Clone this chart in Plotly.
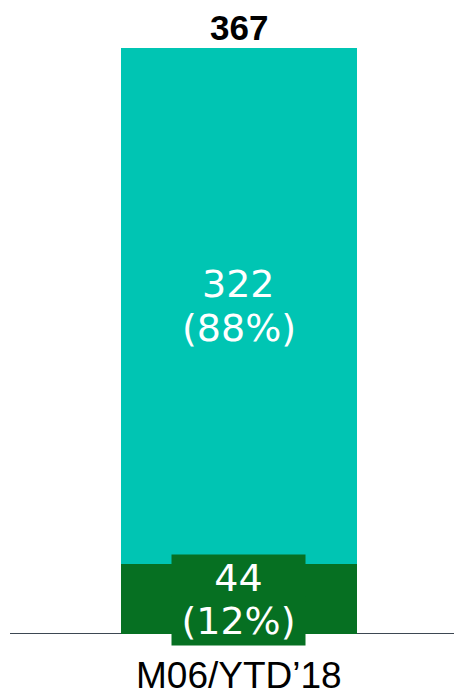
import plotly.graph_objects as go

categories = ["M06/YTD’18"]
bottom_values = [44]
bottom_pct = [12]
top_values = [322]
top_pct = [88]
totals = [367]

GREEN = "#067022"
TEAL = "#00C5B3"
LABEL_FONT = "DejaVu Sans"

fig = go.Figure()
x = [0]
fig.add_trace(go.Bar(x=x, y=bottom_values, width=1, marker=dict(color=GREEN, line=dict(width=0)),
                     hoverinfo="skip"))
fig.add_trace(go.Bar(x=x, y=top_values, width=1, marker=dict(color=TEAL, line=dict(width=0)),
                     hoverinfo="skip"))

# baseline
fig.add_shape(type="line", xref="paper", yref="y", x0=0, x1=1, y0=0, y1=0,
              line=dict(color="#3d4752", width=2), layer="below")

for i, xv in enumerate(x):
    top_mid = bottom_values[i] + top_values[i] / 2
    bot_mid = bottom_values[i] / 2
    # top segment label (two lines)
    fig.add_annotation(x=xv, y=top_mid, yshift=22, yanchor="middle",
                       text=f"{top_values[i]}", showarrow=False,
                       font=dict(family=LABEL_FONT, size=38, color="white"))
    fig.add_annotation(x=xv, y=top_mid, yshift=-22, yanchor="middle",
                       text=f"({top_pct[i]}%)", showarrow=False,
                       font=dict(family=LABEL_FONT, size=38, color="white"))
    # bottom segment label with box
    fig.add_annotation(x=xv, y=bot_mid, yshift=21, yanchor="middle",
                       text=f"{bottom_values[i]}", showarrow=False,
                       bgcolor=GREEN, borderpad=1, width=131,
                       font=dict(family=LABEL_FONT, size=38, color="white"))
    fig.add_annotation(x=xv, y=bot_mid, yshift=-22, yanchor="middle",
                       text=f"({bottom_pct[i]}%)", showarrow=False,
                       bgcolor=GREEN, borderpad=2, width=129,
                       font=dict(family=LABEL_FONT, size=38, color="white"))
    # total
    fig.add_annotation(x=xv, y=bottom_values[i] + top_values[i], yshift=21, yanchor="middle",
                       text=f"<b>{totals[i]}</b>", showarrow=False,
                       font=dict(family="Liberation Sans", size=35, color="black"))
    # category label
    fig.add_annotation(x=xv, xref="x", y=0, yref="paper", yshift=-41, yanchor="middle",
                       text=categories[i], showarrow=False,
                       font=dict(family="Liberation Sans", size=37, color="black"))

fig.update_layout(
    barmode="stack",
    width=462, height=695,
    margin=dict(l=2, r=8, t=40, b=69),
    plot_bgcolor="white", paper_bgcolor="white",
    showlegend=False,
    xaxis=dict(range=[-0.970, 0.945], visible=False, fixedrange=True),
    yaxis=dict(range=[0, 366], visible=False, fixedrange=True),
)

fig.write_html("out.html")
